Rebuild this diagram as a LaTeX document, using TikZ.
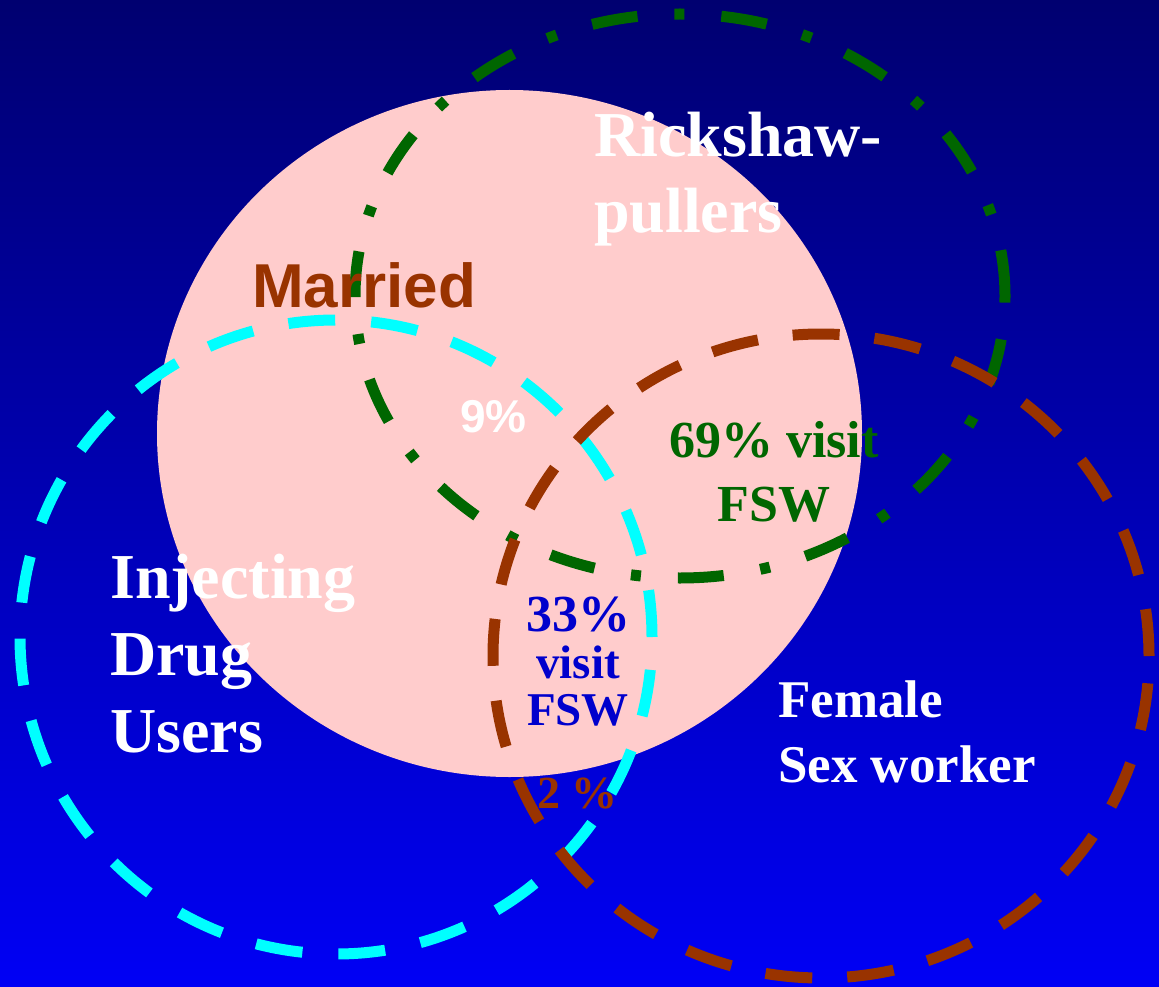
\documentclass[tikz,border=0pt]{standalone}
\usepackage{fontspec}
\setmainfont{Liberation Serif}
\newfontfamily\arialfont{Liberation Sans}
\usetikzlibrary{shapes.geometric,positioning}
\definecolor{bgtop}{RGB}{0,0,112}
\definecolor{bgbottom}{RGB}{0,0,245}
\definecolor{pinkfill}{RGB}{255,204,204}
\definecolor{rustbrown}{RGB}{153,51,0}
\definecolor{darkgreen}{RGB}{0,102,0}
\definecolor{aqua}{RGB}{0,255,255}
\definecolor{labelblue}{RGB}{0,0,204}
\begin{document}
\begin{tikzpicture}[x=1pt,y=-1pt,
  group node/.style={ellipse,inner sep=0pt,line width=11pt},
  label text/.style={text=white,inner sep=0pt,anchor=base west,align=left}]
%background
  \shade[top color=bgtop,bottom color=bgbottom] (0,0) rectangle (1159,987);
  \useasboundingbox (0,0) rectangle (1159,987);
%married
  \node[group node,fill=pinkfill,minimum width=705,minimum height=687] (married) at (509.5,433.5) {};
%rickshaw pullers
  \node[group node,draw=darkgreen,dash pattern=on 46pt off 37pt on 10pt off 37pt,
    minimum width=650,minimum height=564] (rickshaw) at (680,296) {};
%injecting drug users
  \node[group node,draw=aqua,dash pattern=on 47pt off 36pt,
    minimum width=632,minimum height=634] (idu) at (336,637) {};
%female sex worker
  \node[group node,draw=rustbrown,dash pattern=on 47pt off 35pt,
    minimum width=656,minimum height=644] (fsw) at (821,656) {};
%labels
  \node[label text,font=\bfseries\fontsize{64}{76}\selectfont] (rickshaw label) at (594,233) {Rickshaw-\\pullers};
  \node[label text,text=rustbrown,font=\arialfont\bfseries\fontsize{62}{62}\selectfont] (married label) at (252,307) {Married};
  \node[label text,font=\arialfont\bfseries\fontsize{46}{46}\selectfont] (all label) at (460,432) {9\%};
  \node[label text,anchor=base,align=center,text=darkgreen,font=\bfseries\fontsize{52}{64}\selectfont] (rickshaw fsw) at (774,521) {69\% visit\\FSW};
  \node[label text,anchor=base,align=center,text=labelblue,font=\bfseries\fontsize{47}{47}\selectfont] (idu fsw) at (578,725) {{\fontsize{52}{46}\selectfont 33\%}\\visit\\FSW};
  \node[label text,text=rustbrown,font=\bfseries\fontsize{46}{46}\selectfont] (married fsw) at (537,808) {2 \%};
  \node[label text,font=\bfseries\fontsize{64}{77}\selectfont] (idu label) at (110,752) {Injecting\\Drug\\Users};
  \node[label text,font=\bfseries\fontsize{53}{65}\selectfont] (fsw label) at (778,782) {Female\\Sex worker};
\end{tikzpicture}
\end{document}
